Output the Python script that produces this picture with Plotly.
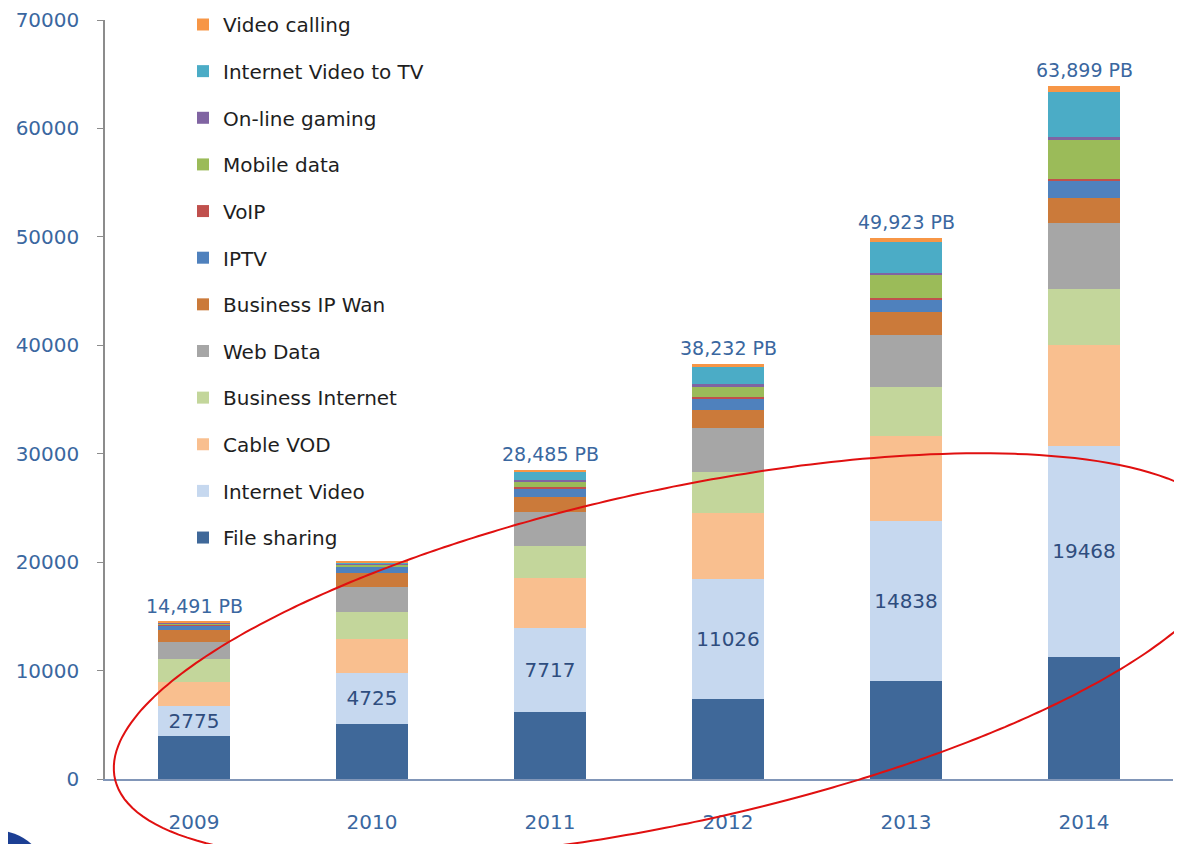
import numpy as np
import plotly.graph_objects as go

years = ["2009", "2010", "2011", "2012", "2013", "2014"]

file_sharing = [3990, 5070, 6180, 7380, 9000, 11250]
internet_video = [2775, 4725, 7717, 11026, 14838, 19468]
cable_vod = [2150, 3110, 4635, 6120, 7810, 9280]
business_internet = [2150, 2460, 3000, 3800, 4490, 5190]
web_data = [1600, 2360, 3060, 4030, 4800, 6060]
business_ip_wan = [1075, 1235, 1410, 1720, 2150, 2300]
iptv = [450, 610, 770, 980, 1110, 1660]
voip = [60, 50, 150, 160, 180, 150]
mobile_data = [60, 130, 500, 1010, 2090, 3530]
online_gaming = [120, 120, 180, 180, 220, 340]
internet_video_tv = [30, 100, 730, 1650, 2860, 4120]
video_calling = [30, 60, 150, 180, 370, 550]

totals = [14491, 20035, 28485, 38232, 49923, 63899]
total_labels = ["14,491 PB", "", "28,485 PB", "38,232 PB", "49,923 PB", "63,899 PB"]

series = [
    ("File sharing", file_sharing, "#3F6899"),
    ("Internet Video", internet_video, "#C6D8EF"),
    ("Cable VOD", cable_vod, "#F9BF8F"),
    ("Business Internet", business_internet, "#C3D69B"),
    ("Web Data", web_data, "#A6A6A6"),
    ("Business IP Wan", business_ip_wan, "#CB7A3A"),
    ("IPTV", iptv, "#4F81BD"),
    ("VoIP", voip, "#C0504D"),
    ("Mobile data", mobile_data, "#9BBB59"),
    ("On-line gaming", online_gaming, "#8064A2"),
    ("Internet Video to TV", internet_video_tv, "#4BACC6"),
    ("Video calling", video_calling, "#F79646"),
]

# hand-drawn highlight ellipse, traced points in page pixels (decoration)
ellipse_trace_x = [119, 133, 167, 210, 150, 200, 267, 367, 433, 517, 600, 760,
                   820, 840, 990, 1153, 1182, 1180, 1117, 1047, 940, 870, 780, 567]
ellipse_trace_y = [770, 813, 833, 843, 707, 657, 617, 577, 552, 525, 503, 472,
                   462, 463, 452, 468, 490, 623, 670, 710, 753, 777, 803, 842]

FONT = "DejaVu Sans"
BLUE_TXT = "#3A67A0"

# the page body adds an 8px margin around the figure
OFF = 8
W, H = 1182 - OFF, 844 - OFF
# plot area in page pixels
L, R, T, B = 105, 1173, 20, 779

fig = go.Figure()
n = len(series)
for i, (name, vals, color) in enumerate(series):
    kw = {}
    if name == "Internet Video":
        kw = dict(text=[str(v) for v in vals], textposition="inside",
                  insidetextanchor="middle",
                  textfont=dict(family=FONT, size=20, color="#2F4D7E"))
    fig.add_trace(go.Bar(x=years, y=vals, name=name, legendgroup=name,
                         legendrank=n - i,
                         marker=dict(color=color, line=dict(width=0)),
                         hoverinfo="skip", **kw))

for i, (tot, lab) in enumerate(zip(totals, total_labels)):
    if lab:
        fig.add_annotation(x=i, y=tot, text=lab, showarrow=False,
                           yanchor="bottom", yshift=3,
                           font=dict(family=FONT, size=19, color=BLUE_TXT))


def px_to_paper(px, py):
    return (px - L) / (R - L), (B - py) / (B - T)


# fit a conic through the traced points, then sample it
ex_ = (np.array(ellipse_trace_x, float) - 650) / 500
ey_ = (np.array(ellipse_trace_y, float) - 650) / 200
A = np.column_stack([ex_ ** 2, ex_ * ey_, ey_ ** 2, ex_, ey_])
ca, cb, cc, cd, ce = np.linalg.lstsq(A, np.ones_like(ex_), rcond=None)[0]
M = np.array([[ca, cb / 2], [cb / 2, cc]])
c0 = -0.5 * np.linalg.solve(M, np.array([cd, ce]))
k = 1 + c0 @ M @ c0
phi = np.linspace(0, 2 * np.pi, 361)
U = np.stack([np.cos(phi), np.sin(phi)])
r = np.sqrt(k / np.einsum("in,ij,jn->n", U, M, U))
gx = (c0[0] + r * U[0]) * 500 + 650
gy = (c0[1] + r * U[1]) * 200 + 650
pts = [px_to_paper(x, y) for x, y in zip(gx, gy)]
path = "M " + " L ".join(f"{p[0]:.4f},{p[1]:.4f}" for p in pts) + " Z"
fig.add_shape(type="path", path=path, xref="paper", yref="paper",
              line=dict(color="#E01010", width=2), fillcolor="rgba(0,0,0,0)")

# logo corner fragment
x0, y0 = px_to_paper(-60, 830)
x1, y1 = px_to_paper(48, 930)
fig.add_shape(type="circle", xref="paper", yref="paper", x0=x0, y0=y1, x1=x1, y1=y0,
              fillcolor="#1C3F94", line=dict(width=0))

fig.update_layout(
    width=W, height=H,
    barmode="stack", bargap=0.595,
    plot_bgcolor="white", paper_bgcolor="white",
    margin=dict(l=L - OFF, r=W - (R - OFF), t=T - OFF, b=H - (B - OFF),
                autoexpand=False),
    showlegend=True,
    legend=dict(x=(183 - L) / (R - L), xanchor="left",
                y=(B - 5) / (B - T), yanchor="top",
                traceorder="grouped", tracegroupgap=17.64, maxheight=1,
                bgcolor="rgba(0,0,0,0)",
                font=dict(family=FONT, size=20, color="#1E1E1E"),
                itemclick=False),
    font=dict(family=FONT),
)
fig.update_xaxes(type="category", categoryorder="array", categoryarray=years,
                 range=[-0.5, len(years) - 0.5],
                 showline=True, linecolor="#8196B8", linewidth=1.5,
                 ticks="", ticklabelstandoff=24,
                 tickfont=dict(family=FONT, size=20, color=BLUE_TXT),
                 showgrid=False)
fig.update_yaxes(range=[0, 70000], dtick=10000, tickformat="d",
                 showline=True, linecolor="#8C8C8C", linewidth=1.5,
                 ticks="outside", ticklen=6, tickcolor="#8C8C8C",
                 ticklabelstandoff=14,
                 tickfont=dict(family=FONT, size=20, color=BLUE_TXT),
                 showgrid=False, zeroline=False)

fig.write_html("out.html")
